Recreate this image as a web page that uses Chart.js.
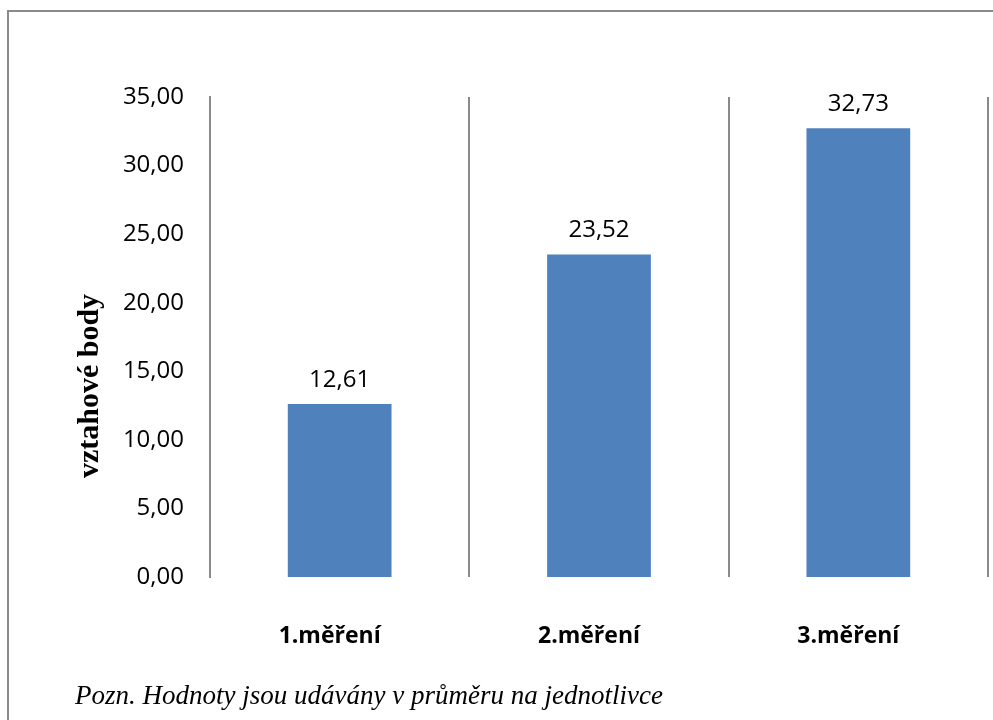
<!DOCTYPE html>
<html>
<head>
<meta charset="utf-8">
<script src="https://cdn.jsdelivr.net/npm/chart.js@4"></script>
<style>
html,body{margin:0;padding:0;background:#fff;}
canvas{display:block;}
</style>
</head>
<body>
<canvas id="c" width="993" height="720"></canvas>
<script>
const categories = ["1.měření", "2.měření", "3.měření"];
const values = [12.61, 23.52, 32.73];
const yTicks = [0, 5, 10, 15, 20, 25, 30, 35];
const yTitle = "vztahové body";
const footnote = "Pozn. Hodnoty jsou udávány v průměru na jednotlivce";

const fmt = v => v.toFixed(2).replace('.', ',');

const extras = {
  id: 'extras',
  beforeDraw(chart) {
    const ctx = chart.ctx;
    ctx.save();
    ctx.fillStyle = '#fff';
    ctx.fillRect(0, 0, chart.width, chart.height);
    ctx.strokeStyle = '#8a8a8a';
    ctx.lineWidth = 2;
    ctx.beginPath();
    ctx.moveTo(8, 720);
    ctx.lineTo(8, 11);
    ctx.lineTo(993, 11);
    ctx.stroke();
    ctx.restore();
  },
  afterDatasetsDraw(chart) {
    const ctx = chart.ctx;
    const meta = chart.getDatasetMeta(0);
    ctx.save();
    ctx.font = '24px "Open Sans", sans-serif';
    ctx.fillStyle = '#000';
    ctx.textAlign = 'center';
    ctx.textBaseline = 'alphabetic';
    meta.data.forEach((bar, i) => {
      ctx.fillText(fmt(values[i]), bar.x, bar.y - 17.5);
    });
    // y title
    ctx.save();
    ctx.translate(90, 386);
    ctx.rotate(-Math.PI / 2);
    ctx.font = 'bold 30px "Liberation Serif", serif';
    ctx.textBaseline = 'middle';
    ctx.fillText(yTitle, 0, 0);
    ctx.restore();
    // footnote
    ctx.font = 'italic 27px "Liberation Serif", serif';
    ctx.textAlign = 'left';
    ctx.textBaseline = 'middle';
    ctx.fillText(footnote, 75, 697);
    ctx.restore();
  }
};

new Chart(document.getElementById('c'), {
  type: 'bar',
  data: {
    labels: categories,
    datasets: [{
      data: values,
      backgroundColor: '#4F81BD',
      borderWidth: 0,
      barPercentage: 0.4,
      categoryPercentage: 1.0
    }]
  },
  options: {
    responsive: false,
    animation: false,
    layout: { padding: { top: 97, right: 5, left: 0, bottom: 0 } },
    plugins: { legend: { display: false }, tooltip: { enabled: false } },
    scales: {
      x: {
        offset: true,
        grid: { display: true, offset: true, drawTicks: false, color: '#8a8a8a', lineWidth: 2 },
        border: { display: false },
        ticks: { font: { family: '"Open Sans", sans-serif', size: 23, weight: 'bold' }, color: '#000', padding: 46, labelOffset: -10 },
        afterFit(scale) { scale.height = 143; }
      },
      y: {
        min: 0, max: 35,
        afterBuildTicks(scale) { scale.ticks = yTicks.map(v => ({ value: v })); },
        grid: { display: false, drawTicks: false },
        border: { display: true, color: '#8a8a8a', width: 2 },
        ticks: {
          font: { family: '"Open Sans", sans-serif', size: 24 },
          color: '#000',
          padding: 26,
          callback: v => fmt(v)
        },
        afterFit(scale) { scale.width = 210; }
      }
    }
  },
  plugins: [extras]
});
</script>
</body>
</html>
